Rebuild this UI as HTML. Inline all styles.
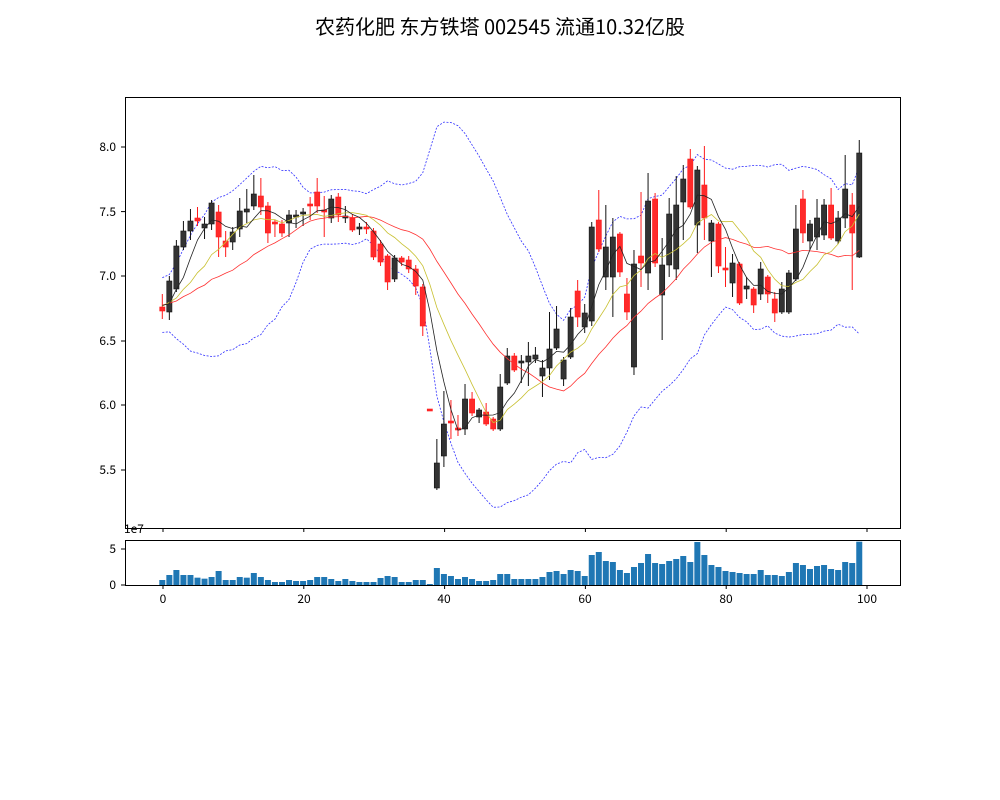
<!DOCTYPE html>
<html><head><meta charset="utf-8"><style>
body{margin:0;background:#fff;}
svg{display:block;font-family:"WenQuanYi Zen Hei","Noto Sans CJK SC","Liberation Sans",sans-serif;}
</style></head><body>
<svg id="s" width="1000" height="800" xmlns="http://www.w3.org/2000/svg">
<rect width="1000" height="800" fill="#fff"/>
<text x="500" y="34" font-size="20" text-anchor="middle" fill="#000">农药化肥 东方铁塔 002545 流通10.32亿股</text>
<g id="g"></g>
<rect x="125.5" y="97.5" width="775" height="431" fill="none" stroke="#000" stroke-width="1"/>
<rect x="125.5" y="540.5" width="775" height="45" fill="none" stroke="#000" stroke-width="1"/>
<g font-size="12" fill="#000" text-anchor="end">
<text x="116" y="151">8.0</text><text x="116" y="216">7.5</text><text x="116" y="280">7.0</text>
<text x="116" y="345">6.5</text><text x="116" y="409">6.0</text><text x="116" y="474">5.5</text>
<text x="116" y="553">5</text><text x="116" y="589">0</text>
</g>
<text x="124" y="533" font-size="12">1e7</text>
<g font-size="12" text-anchor="middle">
<text x="163" y="603">0</text><text x="304" y="603">20</text><text x="444" y="603">40</text>
<text x="585" y="603">60</text><text x="726" y="603">80</text><text x="867" y="603">100</text>
</g>
</svg>
<script>
var D=[[307,311,'r',294,319],[281,312,'k',276,320],[246,289,'k',240,292],[231,247,'k',221,250],[221,231,'k',209,240],[218,221,'r',207,226],[224,228,'k',217,239],[203,224,'k',200,230],[212,237,'r',205,257],[241,247,'r',231,257],
[232,242,'k',227,250],[211,229,'k',198,237],[209,212,'k',189,223],[194,206,'k',175,210],[196,207,'r',178,215],[206,233,'r',202,243],[222,224,'r',220,237],[224,233,'r',220,237],[215,223,'k',210,237],[215,217,'k',210,228],
[212,214,'k',208,226],[204,206,'r',197,220],[192,206,'r',178,213],[210,212,'r',196,237],[199,218,'k',195,223],[197,215,'r',193,222],[216,218,'k',206,223],[218,230,'r',214,232],[227,229,'k',223,235],[227,229,'r',222,234],
[231,257,'r',228,260],[244,262,'r',240,266],[256,282,'r',254,290],[258,279,'k',255,282],[258,262,'r',256,266],[260,269,'r',256,273],[269,286,'r',265,295],[287,326,'r',284,336],[409,411,'r',409,411],[463,488,'k',439,490],
[424,456,'k',391,467],[421,423,'r',400,439],[428,430,'r',415,436],[399,429,'k',384,435],[399,413,'r',392,416],[410,417,'k',408,423],[412,424,'r',403,426],[419,429,'r',417,431],[387,429,'k',374,431],[356,383,'k',348,385],
[356,370,'r',353,372],[361,363,'k',355,383],[356,362,'k',342,386],[355,359,'k',347,363],[368,376,'k',360,397],[349,368,'k',312,380],[329,348,'k',306,350],[360,379,'k',357,386],[317,357,'k',308,359],[291,317,'r',280,327],
[313,327,'k',304,333],[227,321,'k',222,326],[220,249,'r',190,252],[247,277,'k',205,290],[237,277,'k',218,317],[234,272,'r',232,277],[294,312,'r',278,320],[264,367,'k',250,375],[256,263,'r',192,287],[201,273,'k',173,290],
[199,263,'r',193,267],[265,295,'k',238,340],[214,265,'k',198,277],[205,269,'k',176,280],[179,202,'k',165,240],[159,207,'r',149,209],[170,225,'k',166,253],[185,218,'r',146,240],[223,241,'k',220,277],[224,266,'r',222,273],
[268,270,'r',247,287],[263,283,'k',254,297],[264,303,'r',262,305],[286,289,'k',277,299],[289,305,'r',287,313],[269,294,'k',262,300],[277,294,'r',275,303],[299,313,'r',292,322],[289,312,'k',282,314],[273,312,'k',270,314],
[229,279,'k',205,281],[199,233,'r',190,243],[224,241,'k',220,250],[218,237,'k',199,250],[205,235,'k',199,240],[205,238,'r',188,240],[218,241,'k',211,244],[189,218,'k',155,228],[205,233,'r',193,290],[153,257,'k',140,258]];
var V=[165,150,135,150,150,158,161,156,138,165,165,156,158,144,156,165,171,171,165,168,168,165,156,156,162,168,162,168,171,171,171,159,153,156,171,171,165,165,177,129,147,153,162,156,162,168,168,165,147,147,162,162,162,162,156,141,138,147,135,138,153,90,81,108,111,135,144,126,114,87,114,117,108,102,93,111,51,90,120,126,138,141,144,147,147,135,150,150,153,141,114,120,132,123,120,132,135,111,114,50];
var X=function(i){return 162.3+7.04*i;};
var s='';
[0,20,40,60,80,100].forEach(function(t){var x=163+7.04*t;s+='<line x1="'+x+'" y1="528" x2="'+x+'" y2="532" stroke="#000"/>';s+='<line x1="'+x+'" y1="585" x2="'+x+'" y2="589" stroke="#000"/>';});
[147,211.6,276,341,405,470,549,585].forEach(function(y){s+='<line x1="121" y1="'+y+'" x2="125" y2="'+y+'" stroke="#000"/>';});
var C=[];for(var k=0;k<19;k++)C.push(k%2?290:318);
D.forEach(function(d){C.push(d[2]=='k'?d[0]:d[1]);});
function ma(n){var r=[];for(var i=19;i<C.length;i++){var a=0;for(var j=i-n+1;j<=i;j++)a+=C[j];r.push(a/n);}return r;}
var m5=ma(5),m10=ma(10),m20=ma(20),up=[],lo=[];
for(var i=19;i<C.length;i++){var m=m20[i-19],v=0;for(var j=i-19;j<=i;j++)v+=(C[j]-m)*(C[j]-m);var sd=Math.sqrt(v/20);up.push(m-2*sd);lo.push(m+2*sd);}
function pl(a,col,w,dash){var p=a.map(function(y,i){return X(i).toFixed(1)+','+y.toFixed(1);}).join(' ');return '<polyline points="'+p+'" fill="none" stroke="'+col+'" stroke-width="'+w+'"'+(dash?' stroke-dasharray="2,1.5"':'')+'/>';}
s+=pl(up,'#3030ff',0.8,1)+pl(lo,'#3030ff',0.8,1);
D.forEach(function(d,i){var x=X(i),col=d[2]=='k'?'#111':'#ff1a1a',fill=d[2]=='k'?'#333':'#ff2a2a';
s+='<line x1="'+x+'" y1="'+d[3]+'" x2="'+x+'" y2="'+d[4]+'" stroke="'+col+'" stroke-width="1"/>';
var h=Math.max(d[1]-d[0],1.2);s+='<rect x="'+(x-2.6)+'" y="'+d[0]+'" width="5.2" height="'+h+'" fill="'+fill+'" stroke="'+col+'" stroke-width="0.6"/>';
var vh=(180-V[i])/3;s+='<rect x="'+(x-3)+'" y="'+(585-vh)+'" width="6" height="'+vh+'" fill="#1f77b4"/>';});
s+=pl(m20,'#ff3030',0.8)+pl(m10,'#c8c030',0.8)+pl(m5,'#222',0.8);
document.getElementById('g').innerHTML=s;
</script>
</body></html>
